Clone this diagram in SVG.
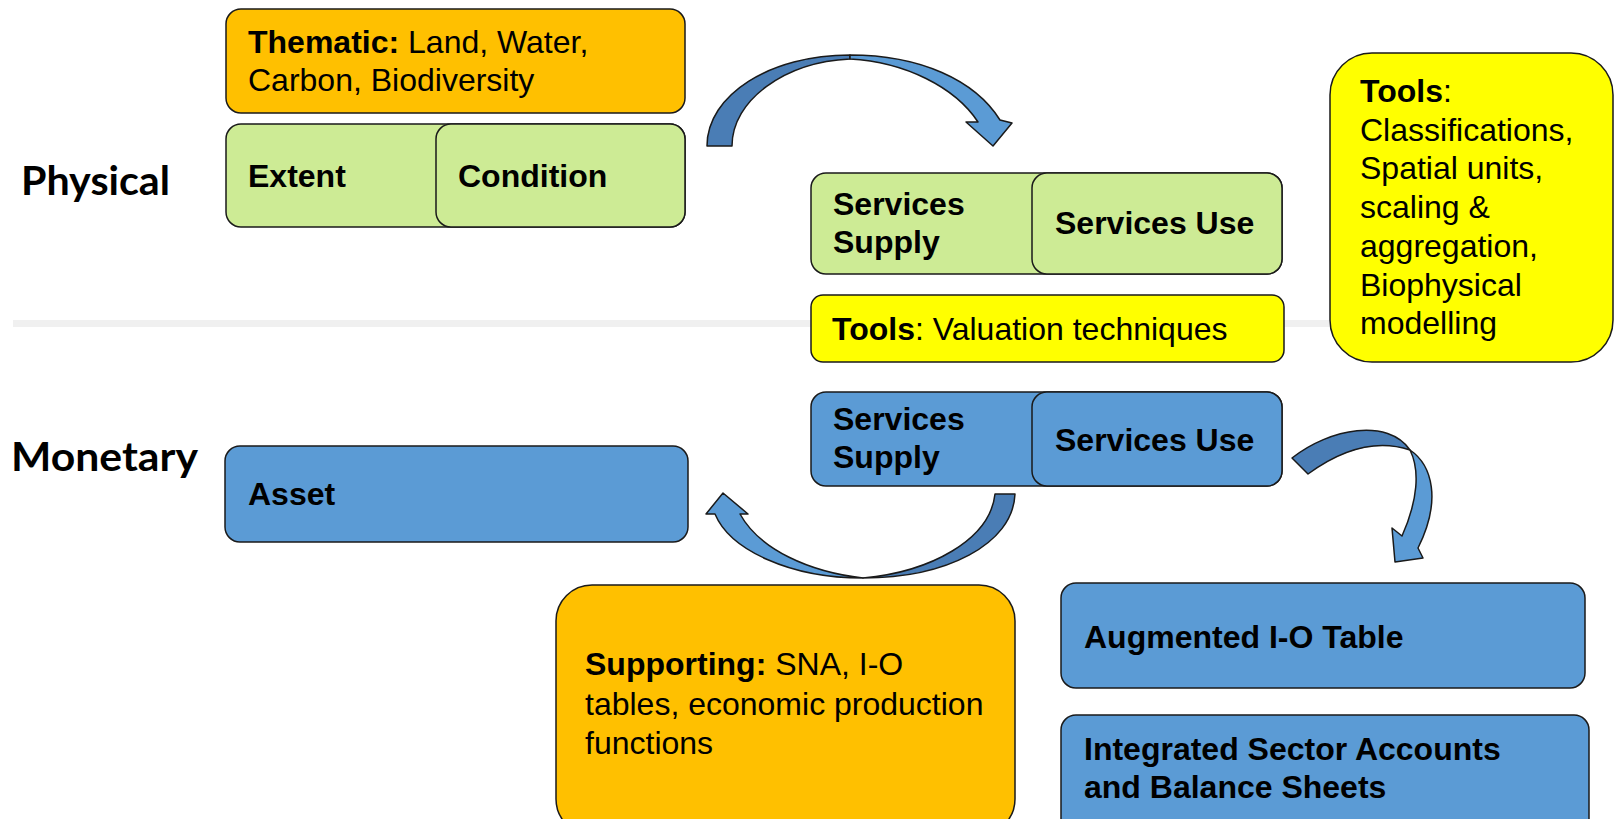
<svg xmlns="http://www.w3.org/2000/svg" width="1615" height="819" viewBox="0 0 1615 819">
<style>
.box{stroke:#1a1a1a;stroke-width:1.5}
.org{fill:#FFC000}
.grn{fill:#CDEB95}
.blu{fill:#5B9BD5}
.yel{fill:#FFFF00}
.t{font-family:"Liberation Sans",Arial,sans-serif;font-size:32px;fill:#000}
.b{font-weight:bold}
.lab{font-family:Lato,"Liberation Sans",sans-serif;font-weight:bold;font-size:40px;fill:#000}
.dark{fill:#4A7DB5;stroke:#1a1a1a;stroke-width:1.5;stroke-linejoin:round}
.light{fill:#5B9BD5;stroke:#1a1a1a;stroke-width:1.5;stroke-linejoin:round}
</style>
<rect x="13" y="320" width="1320" height="7" fill="#F0F0F0"/>
<g id="label-physical"><text class="lab" x="21" y="195" textLength="149" lengthAdjust="spacingAndGlyphs">Physical</text></g>
<g id="label-monetary"><text class="lab" x="11" y="471" textLength="187" lengthAdjust="spacingAndGlyphs">Monetary</text></g>
<g id="thematic">
<rect class="box org" x="226" y="9" width="459" height="104" rx="15"/>
<text class="t" x="248" y="53"><tspan class="b">Thematic:</tspan> Land, Water,</text>
<text class="t" x="248" y="91">Carbon, Biodiversity</text>
</g>
<g id="extent">
<rect class="box grn" x="226" y="124" width="459" height="103" rx="15"/>
<text class="t b" x="248" y="187">Extent</text>
</g>
<g id="condition">
<rect class="box grn" x="436" y="124" width="249" height="103" rx="15"/>
<text class="t b" x="458" y="187">Condition</text>
</g>
<g id="phys-supply">
<rect class="box grn" x="811" y="173" width="471" height="101" rx="15"/>
<text class="t b" x="833" y="215">Services</text>
<text class="t b" x="833" y="253">Supply</text>
</g>
<g id="phys-use">
<rect class="box grn" x="1032" y="173" width="250" height="101" rx="15"/>
<text class="t b" x="1055" y="234">Services Use</text>
</g>
<g id="tools-valuation">
<rect class="box yel" x="811" y="295" width="473" height="67" rx="12"/>
<text class="t" x="832" y="340"><tspan class="b">Tools</tspan>: Valuation techniques</text>
</g>
<g id="tools-right">
<rect class="box yel" x="1330" y="53" width="283" height="309" rx="42"/>
<text class="t" x="1360" y="102"><tspan class="b">Tools</tspan>:</text>
<text class="t" x="1360" y="141">Classifications,</text>
<text class="t" x="1360" y="179">Spatial units,</text>
<text class="t" x="1360" y="218">scaling &amp;</text>
<text class="t" x="1360" y="257">aggregation,</text>
<text class="t" x="1360" y="296">Biophysical</text>
<text class="t" x="1360" y="334">modelling</text>
</g>
<g id="mon-supply">
<rect class="box blu" x="811" y="392" width="471" height="94" rx="15"/>
<text class="t b" x="833" y="430">Services</text>
<text class="t b" x="833" y="468">Supply</text>
</g>
<g id="mon-use">
<rect class="box blu" x="1032" y="392" width="250" height="94" rx="15"/>
<text class="t b" x="1055" y="451">Services Use</text>
</g>
<g id="asset">
<rect class="box blu" x="225" y="446" width="463" height="96" rx="15"/>
<text class="t b" x="248" y="505">Asset</text>
</g>
<g id="supporting">
<rect class="box org" x="556" y="585" width="459" height="250" rx="36"/>
<text class="t" x="585" y="675"><tspan class="b">Supporting:</tspan> SNA, I-O</text>
<text class="t" x="585" y="715">tables, economic production</text>
<text class="t" x="585" y="754">functions</text>
</g>
<g id="augmented">
<rect class="box blu" x="1061" y="583" width="524" height="105" rx="15"/>
<text class="t b" x="1084" y="648">Augmented I-O Table</text>
</g>
<g id="integrated">
<rect class="box blu" x="1061" y="715" width="528" height="120" rx="15"/>
<text class="t b" x="1084" y="760">Integrated Sector Accounts</text>
<text class="t b" x="1084" y="798">and Balance Sheets</text>
</g>
<g id="connectors">
<path class="dark" d="M707,146 C707,95 770,55 850,55 L850,59 C785,62 732,100 732,146 Z"/>
<path class="light" d="M850,55 C920,55 975,80 1000,120 L1012,123 L993,146 L966,122 L978,122 C955,87 905,62 850,59 Z"/>
<path class="dark" d="M995,494 L1015,494 C1013,545 945,578 863,578 C930,572 990,540 995,494 Z"/>
<path class="light" d="M863,578 C790,578 730,550 715,514 L706,514 L723,493 L748,514 L740,514 C760,550 810,572 863,578 Z"/>
<path class="dark" d="M1292,458 C1330,428 1388,418 1410,450 C1380,440 1345,447 1308,474 Z"/>
<path class="light" d="M1410,450 C1432,465 1442,500 1418,548 L1423,558 L1395,562 L1392,528 L1402,536 C1418,500 1420,470 1410,450 Z"/>
</g>
</svg>
